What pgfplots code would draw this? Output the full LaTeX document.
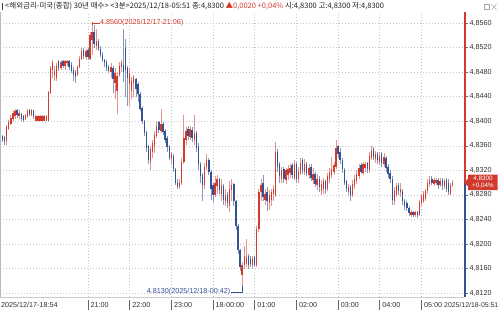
\documentclass[border=0pt]{standalone}
\usepackage{pgfplots}
\pgfplotsset{compat=1.18}
\usepackage{pgfplotstable}
\usepackage{fontspec}
\setmainfont{Liberation Sans}
\newfontfamily\kr{Noto Sans CJK KR}
\definecolor{cred}{RGB}{210,58,45}
\definecolor{cblue}{RGB}{52,82,148}
\definecolor{hdr}{RGB}{35,35,35}
\newcommand\fs{\fontsize{7.2bp}{8bp}\selectfont}

\pgfplotstableread{
i o h l c
0 4.8378 4.8380 4.8366 4.8370
1 4.8376 4.8378 4.8366 4.8370
2 4.8374 4.8376 4.8362 4.8368
3 4.8368 4.8394 4.8362 4.8390
4 4.8388 4.8402 4.8386 4.8398
5 4.8396 4.8410 4.8394 4.8406
6 4.8404 4.8418 4.8400 4.8414
7 4.8408 4.8420 4.8404 4.8416
8 4.8418 4.8420 4.8406 4.8410
9 4.8408 4.8418 4.8404 4.8414
10 4.8412 4.8414 4.8400 4.8404
11 4.8408 4.8410 4.8398 4.8402
12 4.8404 4.8412 4.8402 4.8410
13 4.8408 4.8420 4.8406 4.8416
14 4.8418 4.8420 4.8408 4.8412
15 4.8410 4.8420 4.8408 4.8418
16 4.8418 4.8418 4.8404 4.8408
17 4.8400 4.8410 4.8400 4.8408
18 4.8400 4.8410 4.8400 4.8408
19 4.8400 4.8410 4.8400 4.8408
20 4.8400 4.8410 4.8400 4.8408
21 4.8400 4.8410 4.8400 4.8408
22 4.8400 4.8410 4.8400 4.8408
23 4.8400 4.8450 4.8400 4.8448
24 4.8446 4.8490 4.8444 4.8486
25 4.8484 4.8500 4.8470 4.8496
26 4.8476 4.8490 4.8466 4.8482
27 4.8470 4.8494 4.8466 4.8490
28 4.8498 4.8500 4.8482 4.8486
29 4.8486 4.8500 4.8484 4.8496
30 4.8498 4.8500 4.8486 4.8490
31 4.8490 4.8500 4.8484 4.8498
32 4.8494 4.8500 4.8490 4.8498
33 4.8498 4.8500 4.8484 4.8488
34 4.8492 4.8496 4.8478 4.8482
35 4.8484 4.8488 4.8466 4.8476
36 4.8480 4.8484 4.8462 4.8472
37 4.8476 4.8492 4.8474 4.8488
38 4.8488 4.8506 4.8486 4.8502
39 4.8502 4.8520 4.8500 4.8514
40 4.8516 4.8520 4.8502 4.8506
41 4.8504 4.8518 4.8500 4.8514
42 4.8516 4.8520 4.8500 4.8504
43 4.8502 4.8546 4.8500 4.8540
44 4.8532 4.8560 4.8508 4.8546
45 4.8546 4.8556 4.8520 4.8526
46 4.8522 4.8550 4.8516 4.8530
47 4.8530 4.8534 4.8514 4.8518
48 4.8518 4.8522 4.8504 4.8508
49 4.8508 4.8512 4.8496 4.8500
50 4.8500 4.8502 4.8488 4.8494
51 4.8496 4.8500 4.8482 4.8486
52 4.8488 4.8492 4.8478 4.8482
53 4.8480 4.8494 4.8470 4.8488
54 4.8486 4.8490 4.8446 4.8468
55 4.8462 4.8486 4.8436 4.8478
56 4.8450 4.8480 4.8412 4.8474
57 4.8476 4.8496 4.8472 4.8490
58 4.8488 4.8500 4.8480 4.8496
59 4.8492 4.8550 4.8464 4.8480
60 4.8520 4.8534 4.8440 4.8484
61 4.8486 4.8490 4.8424 4.8470
62 4.8460 4.8486 4.8424 4.8478
63 4.8450 4.8472 4.8436 4.8466
64 4.8462 4.8476 4.8440 4.8472
65 4.8468 4.8470 4.8440 4.8452
66 4.8460 4.8464 4.8432 4.8444
67 4.8444 4.8448 4.8416 4.8420
68 4.8422 4.8424 4.8396 4.8400
69 4.8400 4.8402 4.8376 4.8380
70 4.8382 4.8384 4.8350 4.8356
71 4.8360 4.8362 4.8330 4.8336
72 4.8334 4.8360 4.8320 4.8354
73 4.8350 4.8370 4.8340 4.8364
74 4.8360 4.8384 4.8348 4.8378
75 4.8376 4.8400 4.8372 4.8392
76 4.8398 4.8400 4.8380 4.8386
77 4.8384 4.8420 4.8380 4.8396
78 4.8396 4.8398 4.8378 4.8382
79 4.8384 4.8388 4.8364 4.8370
80 4.8372 4.8376 4.8350 4.8358
81 4.8358 4.8362 4.8336 4.8340
82 4.8338 4.8350 4.8330 4.8346
83 4.8344 4.8346 4.8318 4.8322
84 4.8322 4.8324 4.8296 4.8300
85 4.8300 4.8306 4.8290 4.8294
86 4.8292 4.8306 4.8290 4.8300
87 4.8300 4.8340 4.8296 4.8334
88 4.8334 4.8410 4.8330 4.8372
89 4.8370 4.8390 4.8362 4.8384
90 4.8388 4.8392 4.8370 4.8376
91 4.8374 4.8392 4.8370 4.8388
92 4.8386 4.8390 4.8366 4.8372
93 4.8370 4.8410 4.8362 4.8380
94 4.8380 4.8384 4.8350 4.8356
95 4.8360 4.8364 4.8320 4.8330
96 4.8330 4.8334 4.8300 4.8310
97 4.8312 4.8316 4.8270 4.8296
98 4.8296 4.8332 4.8290 4.8326
99 4.8326 4.8346 4.8320 4.8336
100 4.8336 4.8340 4.8312 4.8318
101 4.8318 4.8320 4.8272 4.8290
102 4.8296 4.8300 4.8268 4.8280
103 4.8280 4.8310 4.8276 4.8300
104 4.8294 4.8312 4.8282 4.8306
105 4.8306 4.8308 4.8282 4.8288
106 4.8282 4.8306 4.8270 4.8296
107 4.8294 4.8298 4.8264 4.8272
108 4.8270 4.8290 4.8262 4.8280
109 4.8280 4.8284 4.8258 4.8266
110 4.8262 4.8302 4.8252 4.8290
111 4.8288 4.8306 4.8270 4.8296
112 4.8298 4.8300 4.8262 4.8270
113 4.8270 4.8272 4.8222 4.8230
114 4.8230 4.8232 4.8184 4.8190
115 4.8190 4.8192 4.8156 4.8162
116 4.8150 4.8170 4.8130 4.8166
117 4.8166 4.8196 4.8160 4.8180
118 4.8168 4.8208 4.8162 4.8178
119 4.8180 4.8184 4.8160 4.8166
120 4.8176 4.8180 4.8162 4.8168
121 4.8166 4.8180 4.8160 4.8176
122 4.8178 4.8180 4.8162 4.8166
123 4.8166 4.8230 4.8162 4.8224
124 4.8224 4.8290 4.8220 4.8284
125 4.8284 4.8306 4.8270 4.8296
126 4.8300 4.8312 4.8270 4.8276
127 4.8272 4.8290 4.8264 4.8282
128 4.8284 4.8292 4.8254 4.8270
129 4.8266 4.8288 4.8256 4.8280
130 4.8272 4.8290 4.8262 4.8284
131 4.8282 4.8296 4.8270 4.8290
132 4.8280 4.8366 4.8276 4.8350
133 4.8350 4.8354 4.8318 4.8326
134 4.8330 4.8334 4.8300 4.8310
135 4.8306 4.8326 4.8300 4.8320
136 4.8322 4.8326 4.8300 4.8306
137 4.8304 4.8324 4.8298 4.8320
138 4.8312 4.8328 4.8304 4.8322
139 4.8316 4.8330 4.8308 4.8324
140 4.8328 4.8332 4.8306 4.8312
141 4.8308 4.8336 4.8304 4.8330
142 4.8330 4.8334 4.8300 4.8306
143 4.8306 4.8326 4.8300 4.8318
144 4.8316 4.8340 4.8312 4.8332
145 4.8336 4.8340 4.8314 4.8320
146 4.8318 4.8338 4.8312 4.8330
147 4.8330 4.8334 4.8310 4.8316
148 4.8312 4.8330 4.8306 4.8324
149 4.8326 4.8330 4.8302 4.8308
150 4.8304 4.8324 4.8298 4.8314
151 4.8314 4.8318 4.8292 4.8298
152 4.8296 4.8314 4.8288 4.8306
153 4.8306 4.8310 4.8284 4.8292
154 4.8286 4.8304 4.8280 4.8298
155 4.8290 4.8308 4.8282 4.8302
156 4.8302 4.8304 4.8282 4.8290
157 4.8290 4.8316 4.8286 4.8310
158 4.8306 4.8324 4.8300 4.8318
159 4.8312 4.8342 4.8308 4.8322
160 4.8318 4.8334 4.8312 4.8328
161 4.8326 4.8370 4.8322 4.8356
162 4.8360 4.8362 4.8340 4.8346
163 4.8350 4.8356 4.8330 4.8336
164 4.8336 4.8340 4.8316 4.8322
165 4.8320 4.8324 4.8296 4.8300
166 4.8302 4.8304 4.8284 4.8290
167 4.8284 4.8298 4.8278 4.8292
168 4.8292 4.8296 4.8270 4.8280
169 4.8280 4.8304 4.8276 4.8298
170 4.8294 4.8312 4.8290 4.8306
171 4.8302 4.8320 4.8298 4.8314
172 4.8310 4.8330 4.8306 4.8324
173 4.8328 4.8332 4.8314 4.8318
174 4.8316 4.8334 4.8312 4.8330
175 4.8324 4.8334 4.8318 4.8330
176 4.8332 4.8334 4.8316 4.8322
177 4.8320 4.8350 4.8316 4.8344
178 4.8340 4.8360 4.8336 4.8352
179 4.8354 4.8358 4.8336 4.8342
180 4.8338 4.8352 4.8332 4.8346
181 4.8346 4.8350 4.8330 4.8336
182 4.8334 4.8350 4.8328 4.8344
183 4.8346 4.8350 4.8326 4.8332
184 4.8330 4.8348 4.8326 4.8342
185 4.8340 4.8344 4.8318 4.8324
186 4.8326 4.8330 4.8308 4.8314
187 4.8316 4.8320 4.8300 4.8306
188 4.8306 4.8310 4.8264 4.8272
189 4.8270 4.8292 4.8264 4.8286
190 4.8280 4.8300 4.8276 4.8294
191 4.8296 4.8300 4.8280 4.8286
192 4.8284 4.8300 4.8276 4.8290
193 4.8286 4.8290 4.8264 4.8270
194 4.8270 4.8274 4.8256 4.8262
195 4.8266 4.8270 4.8254 4.8258
196 4.8258 4.8262 4.8246 4.8250
197 4.8248 4.8256 4.8244 4.8252
198 4.8252 4.8254 4.8244 4.8248
199 4.8248 4.8254 4.8244 4.8252
200 4.8252 4.8254 4.8242 4.8248
201 4.8248 4.8272 4.8246 4.8268
202 4.8266 4.8282 4.8262 4.8278
203 4.8270 4.8286 4.8266 4.8282
204 4.8274 4.8290 4.8270 4.8286
205 4.8286 4.8306 4.8282 4.8300
206 4.8298 4.8310 4.8292 4.8304
207 4.8306 4.8310 4.8296 4.8300
208 4.8298 4.8308 4.8294 4.8304
209 4.8300 4.8308 4.8296 4.8304
210 4.8304 4.8308 4.8290 4.8296
211 4.8296 4.8308 4.8292 4.8302
212 4.8304 4.8308 4.8288 4.8294
213 4.8294 4.8306 4.8290 4.8302
214 4.8304 4.8308 4.8284 4.8290
215 4.8300 4.8306 4.8280 4.8284
216 4.8282 4.8300 4.8280 4.8296
217 4.8296 4.8304 4.8292 4.8300
218 4.8300 4.8300 4.8300 4.8300
}\data

\begin{document}
\begin{tikzpicture}[x=1bp,y=1bp]
\path[use as bounding box, fill=white] (0,0) rectangle (500,314);
\begin{axis}[
  at={(0bp,17bp)}, anchor=south west,
  scale only axis, width=464bp, height=285bp,
  xmin=-0.2, xmax=222.45, ymin=4.81136, ymax=4.85779,
  clip=false,
  axis line style={draw=none},
  xtick={42,62,82,102,122,142,162,182,202},
  xticklabels={21:00,22:00,23:00,18-00:00,01:00,02:00,03:00,04:00,05:00},
  xtick pos=bottom,
  xtick style={draw=none},
  xticklabel style={anchor=west, yshift=-4.5bp, xshift=-0.8bp, font=\fs, text=black!80},
  ytick={4.812,4.816,4.820,4.824,4.828,4.832,4.836,4.840,4.844,4.848,4.852,4.856},
  ytick pos=right, yticklabel pos=right,
  minor y tick num=3,
  tick align=outside,
  major tick length=3.5bp, minor tick length=2bp,
  ytick style={black!55, line width=0.5bp},
  scaled y ticks=false,
  yticklabel style={font=\fs, text=black!80, xshift=-1.5bp,
    /pgf/number format/fixed, /pgf/number format/fixed zerofill,
    /pgf/number format/precision=4, /pgf/number format/use comma,
    /pgf/number format/assume math mode=true},
  grid=major,
  grid style={gray!45, dash pattern=on 1bp off 2bp, line width=0.5bp},
]
% up candles
\addplot[quiver={u=0,v=\thisrow{h}-\thisrow{l}}, cred!55, line width=0.7bp,
  restrict expr to domain={\thisrow{c}-\thisrow{o}}{0:1}] table[x=i,y=l]{\data};
\addplot[quiver={u=0,v=\thisrow{c}-\thisrow{o}}, cred, line width=1.4bp,
  restrict expr to domain={\thisrow{c}-\thisrow{o}}{0:1}] table[x=i,y=o]{\data};
% down candles
\addplot[quiver={u=0,v=\thisrow{h}-\thisrow{l}}, cblue!60, line width=0.7bp,
  restrict expr to domain={\thisrow{c}-\thisrow{o}}{-1:-0.00001}] table[x=i,y=l]{\data};
\addplot[quiver={u=0,v=\thisrow{c}-\thisrow{o}}, cblue, line width=1.4bp,
  restrict expr to domain={\thisrow{c}-\thisrow{o}}{-1:-0.00001}] table[x=i,y=o]{\data};
% high / low annotations
\draw[cred, line width=0.5bp] (axis cs:44.2,4.8560) -- (axis cs:47.6,4.8560);
\draw[cred, line width=0.8bp] (axis cs:44.2,4.8557) -- (axis cs:44.2,4.8562);
\node[anchor=west, inner sep=0.3bp, text=cred, font=\fs] at (axis cs:47.6,4.8560) {4.8560(2025/12/17-21:06)};
\draw[cblue, line width=0.5bp] (axis cs:110.6,4.81217) -- (axis cs:116,4.81217) -- (axis cs:116,4.8131);
\node[anchor=east, inner sep=0.3bp, text=cblue, font=\fs] at (axis cs:110.5,4.81217) {4.8130(2025/12/18-00:42)};
\end{axis}
% frame pieces
\draw[gray!55, line width=0.6bp] (0.3,17) -- (0.3,302);
\draw[gray!40, line width=0.5bp] (0,17) -- (464,17);
% right axis line, red above price, blue below
\draw[cred, line width=1.6bp] (465,302) -- (465,131.4);
\draw[cblue, line width=1.6bp] (465,131.4) -- (465,17);
% x tick marks
\foreach \xx in {87.9,129.6,171.3,213.0,254.7,296.4,338.0,379.7,421.4}
  \draw[black!60, line width=0.5bp] (\xx,4) -- (\xx,14);
\node[anchor=west, inner sep=0, font=\fs, text=black!80] at (1,9) {2025/12/17-18:54};
\node[anchor=east, inner sep=0, font=\fontsize{6.9bp}{8bp}\selectfont, text=black!80] at (498.5,9) {2025/12/18-05:51};
% price tag
\fill[cred] (464.5,131.4) -- (468,135.5) -- (468,139.3) -- (497.5,139.3) -- (497.5,123.8) -- (468,123.8) -- (468,127.3) -- cycle;
\node[inner sep=0, text=white, font=\fontsize{6.3bp}{7bp}\selectfont] at (483,135.3) {4,8300};
\node[inner sep=0, text=white, font=\fontsize{6.3bp}{7bp}\selectfont] at (483,128.2) {+0,04\%};
% header
\fill[black!75] (1.5,304) rectangle (3.3,311);
\node[anchor=west, inner sep=0, font=\fontsize{7.5bp}{8bp}\selectfont, text=hdr] at (5,307.5)
  {\kr <해외금리-미국(종합) 30년 매수> <3분>2025/12/18-05:51 종:4,8300 \textcolor{cred}{▲0,0020 +0,04\%} 시:4,8300 고:4,8300 저:4,8300};
\draw[gray!70, line width=0.5bp] (484,304.5) rectangle (489.5,310);
\draw[gray!70, line width=0.9bp] (484,309.5) -- (489.5,309.5);
\draw[gray!70, line width=0.5bp] (491.5,304.5) -- (496.5,309.8) (491.5,309.8) -- (496.5,304.5);
\end{tikzpicture}
\end{document}
